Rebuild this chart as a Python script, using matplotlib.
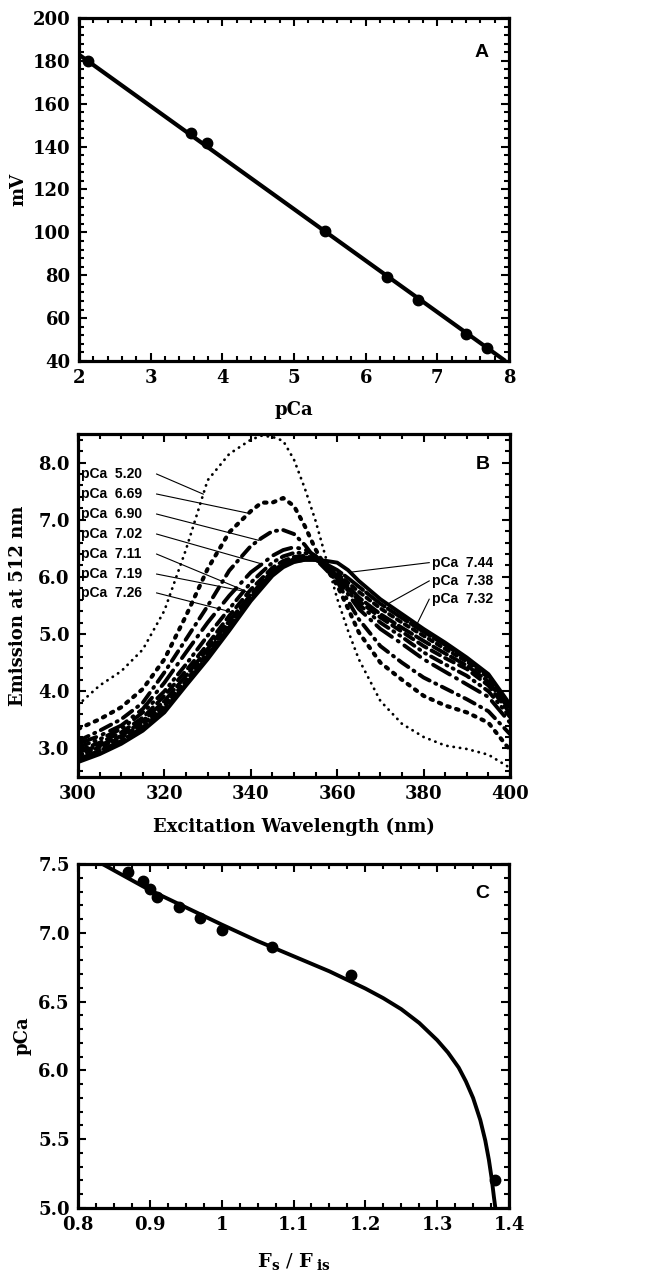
import numpy as np
import matplotlib
matplotlib.use("Agg")
import matplotlib.pyplot as plt
from matplotlib.ticker import MultipleLocator, FixedLocator, FixedFormatter

# ---------------- Panel A data ----------------
a_pca = [2.12, 3.56, 3.79, 5.43, 6.30, 6.73, 7.40, 7.70]
a_mv = [180.0, 146.5, 141.5, 100.5, 79.0, 68.5, 52.5, 46.0]
a_fit_x = [2.0, 7.95]
a_fit_y = [182.9, 40.0]

# ---------------- Panel B data ----------------
wl = [300, 305, 310, 315, 320, 325, 330, 335, 340, 342.5, 345, 347.5, 350,
      352.5, 355, 357.5, 360, 362.5, 365, 370, 375, 380, 385, 390, 395, 400]
em_520 = [3.76, 4.10, 4.35, 4.73, 5.41, 6.48, 7.69, 8.15, 8.40, 8.47, 8.45, 8.38, 8.05,
          7.55, 6.98, 6.30, 5.62, 5.06, 4.56, 3.83, 3.43, 3.20, 3.05, 2.99, 2.89, 2.66]
em_669 = [3.34, 3.51, 3.72, 4.04, 4.56, 5.32, 6.14, 6.78, 7.15, 7.30, 7.30, 7.38, 7.24,
          6.89, 6.48, 6.15, 5.85, 5.45, 5.03, 4.50, 4.20, 3.92, 3.75, 3.63, 3.45, 2.97]
em_690 = [3.13, 3.31, 3.51, 3.80, 4.33, 4.91, 5.49, 6.11, 6.54, 6.68, 6.80, 6.82, 6.75,
          6.56, 6.31, 6.12, 5.92, 5.58, 5.26, 4.79, 4.50, 4.24, 4.05, 3.86, 3.65, 3.25]
em_702 = [3.08, 3.22, 3.40, 3.69, 4.15, 4.68, 5.20, 5.67, 6.08, 6.22, 6.37, 6.47, 6.52,
          6.48, 6.37, 6.17, 5.97, 5.70, 5.44, 5.09, 4.83, 4.56, 4.34, 4.12, 3.90, 3.45]
em_711 = [3.02, 3.16, 3.34, 3.63, 4.00, 4.47, 4.97, 5.44, 5.90, 6.08, 6.25, 6.36, 6.42,
          6.42, 6.35, 6.18, 6.00, 5.76, 5.52, 5.20, 4.95, 4.68, 4.47, 4.27, 4.00, 3.55]
em_719 = [2.96, 3.10, 3.28, 3.54, 3.92, 4.36, 4.82, 5.32, 5.78, 5.97, 6.16, 6.28, 6.35,
          6.37, 6.32, 6.18, 6.02, 5.80, 5.58, 5.29, 5.04, 4.79, 4.58, 4.39, 4.10, 3.62]
em_726 = [2.93, 3.05, 3.22, 3.48, 3.83, 4.27, 4.74, 5.23, 5.69, 5.90, 6.10, 6.23, 6.31,
          6.34, 6.31, 6.19, 6.04, 5.84, 5.64, 5.35, 5.11, 4.88, 4.66, 4.45, 4.17, 3.67]
em_732 = [2.87, 3.02, 3.19, 3.43, 3.75, 4.18, 4.68, 5.17, 5.64, 5.86, 6.08, 6.21, 6.29,
          6.32, 6.30, 6.20, 6.06, 5.90, 5.74, 5.45, 5.20, 4.97, 4.74, 4.52, 4.24, 3.71]
em_738 = [2.81, 2.96, 3.13, 3.37, 3.69, 4.12, 4.62, 5.12, 5.61, 5.83, 6.05, 6.19, 6.27,
          6.30, 6.30, 6.22, 6.12, 5.98, 5.83, 5.53, 5.28, 5.04, 4.81, 4.56, 4.28, 3.74]
em_744 = [2.76, 2.90, 3.08, 3.31, 3.63, 4.10, 4.56, 5.06, 5.58, 5.80, 6.02, 6.17, 6.26,
          6.30, 6.30, 6.28, 6.25, 6.12, 5.93, 5.61, 5.35, 5.09, 4.85, 4.59, 4.30, 3.77]
b_labels = ["5.20", "6.69", "6.90", "7.02", "7.11", "7.19", "7.26", "7.32", "7.38", "7.44"]

# ---------------- Panel C data ----------------
c_ratio = [0.87, 0.89, 0.90, 0.91, 0.94, 0.97, 1.00, 1.07, 1.18, 1.38]
c_pca = [7.44, 7.38, 7.32, 7.26, 7.19, 7.11, 7.02, 6.90, 6.69, 5.20]
c_fit_x = [0.834, 0.90, 0.95, 1.00, 1.05, 1.10, 1.15, 1.20, 1.225, 1.25, 1.275, 1.30,
           1.315, 1.33, 1.34, 1.35, 1.36, 1.367, 1.372, 1.376, 1.379, 1.381]
c_fit_y = [7.50, 7.31, 7.185, 7.06, 6.94, 6.83, 6.72, 6.595, 6.525, 6.445, 6.345, 6.22,
           6.13, 6.02, 5.92, 5.80, 5.64, 5.49, 5.35, 5.21, 5.08, 5.00]

# ---------------- styling ----------------
plt.rcParams['mathtext.fontset'] = 'dejavuserif'
SERIF = 'DejaVu Serif'
SANS = 'Liberation Sans'
TICK_FS = 13
LAB_FS = 13

W, H = 650, 1273
fig = plt.figure(figsize=(W / 100, H / 100), dpi=100)


def frac(l, t, r, b):
    return [l / W, 1 - b / H, (r - l) / W, (b - t) / H]


def style(ax):
    for s in ax.spines.values():
        s.set_linewidth(2.3)
    ax.tick_params(which='both', direction='in', top=True, right=True,
                   width=1.5, labelsize=TICK_FS, pad=6)
    ax.tick_params(which='major', length=6)
    ax.tick_params(which='minor', length=3.5)
    for lab in ax.get_xticklabels() + ax.get_yticklabels():
        lab.set_fontfamily(SERIF)
        lab.set_fontweight('bold')


# ---------------- Panel A ----------------
axA = fig.add_axes(frac(79, 18, 509, 361))
axA.plot(a_fit_x, a_fit_y, color='black', lw=3.0, solid_capstyle='butt')
axA.plot(a_pca, a_mv, 'o', color='black', ms=7.5)
axA.set_xlim(2, 8)
axA.set_ylim(40, 200)
axA.xaxis.set_major_locator(MultipleLocator(1))
axA.xaxis.set_minor_locator(MultipleLocator(0.2))
axA.yaxis.set_major_locator(MultipleLocator(20))
axA.yaxis.set_minor_locator(MultipleLocator(4))
style(axA)
axA.set_xlabel('pCa', fontfamily=SERIF, fontweight='bold', fontsize=LAB_FS, va='center')
axA.xaxis.set_label_coords(0.5, -0.143)
axA.set_ylabel('mV', fontfamily=SERIF, fontweight='bold', fontsize=LAB_FS, va='center')
axA.yaxis.set_label_coords(-0.142, 0.5)
axA.text(0.937, 0.898, 'A', transform=axA.transAxes, fontfamily=SANS,
         fontweight='bold', fontsize=14, ha='center', va='center')

# ---------------- Panel B ----------------
axB = fig.add_axes(frac(78, 434, 510, 777))
series = [em_520, em_669, em_690, em_702, em_711, em_719, em_726, em_732, em_738, em_744]
styles = [
    dict(lw=2.0, ls=(0, (0.1, 2.2)), dash_capstyle='round'),
    dict(lw=3.0, ls=(0, (0.6, 1.6)), dash_capstyle='round'),
    dict(lw=2.8, ls=(0, (3.0, 1.6, 0.3, 1.6)), dash_capstyle='round'),
    dict(lw=2.8, ls=(0, (5.0, 1.8, 0.3, 1.8)), dash_capstyle='round'),
    dict(lw=2.8, ls=(0, (3.0, 1.5, 0.3, 1.5, 0.3, 1.5)), dash_capstyle='round'),
    dict(lw=2.8, ls=(0, (2.5, 1.5)), dash_capstyle='round'),
    dict(lw=2.8, ls=(0, (4.0, 1.2)), dash_capstyle='round'),
    dict(lw=2.8, ls=(0, (1.2, 1.2)), dash_capstyle='round'),
    dict(lw=2.8, ls=(0, (6.0, 1.0)), dash_capstyle='round'),
    dict(lw=2.8, ls='-'),
]
for ys, st in zip(series, styles):
    axB.plot(wl, ys, color='black', **st)
axB.set_xlim(300, 400)
axB.set_ylim(2.5, 8.5)
axB.xaxis.set_major_locator(MultipleLocator(20))
axB.xaxis.set_minor_locator(MultipleLocator(5))
axB.yaxis.set_major_locator(FixedLocator([3, 4, 5, 6, 7, 8]))
axB.yaxis.set_major_formatter(FixedFormatter(['3.0', '4.0', '5.0', '6.0', '7.0', '8.0']))
axB.yaxis.set_minor_locator(MultipleLocator(0.2))
style(axB)
axB.set_xlabel('Excitation Wavelength (nm)', fontfamily=SERIF, fontweight='bold',
               fontsize=LAB_FS, va='center')
axB.xaxis.set_label_coords(0.5, -0.146)
axB.set_ylabel('Emission at 512 nm', fontfamily=SERIF, fontweight='bold',
               fontsize=LAB_FS, va='center')
axB.yaxis.set_label_coords(-0.139, 0.5)
axB.text(0.937, 0.91, 'B', transform=axB.transAxes, fontfamily=SANS,
         fontweight='bold', fontsize=14, ha='center', va='center')

# leader labels (left side)
left_idx = [0, 1, 2, 3, 4, 5, 6]
left_text_y = [7.80, 7.45, 7.10, 6.75, 6.40, 6.05, 5.72]
left_target = [329.0, 339.5, 341.8, 342.6, 338.5, 339.5, 336.5]
for i, ty, tx in zip(left_idx, left_text_y, left_target):
    axB.text(300.8, ty, 'pCa  ' + b_labels[i], fontfamily=SANS, fontweight='bold',
             fontsize=10, ha='left', va='center')
    axB.plot([318.2, tx], [ty, np.interp(tx, wl, series[i])], color='black', lw=0.8)
# leader labels (right side)
right_idx = [9, 8, 7]
right_text_y = [6.25, 5.93, 5.61]
right_target = [363.0, 370.8, 377.8]
for i, ty, tx in zip(right_idx, right_text_y, right_target):
    axB.text(382.0, ty, 'pCa  ' + b_labels[i], fontfamily=SANS, fontweight='bold',
             fontsize=10, ha='left', va='center')
    axB.plot([381.3, tx], [ty, np.interp(tx, wl, series[i])], color='black', lw=0.8)

# ---------------- Panel C ----------------
axC = fig.add_axes(frac(78, 864, 509, 1208))
axC.plot(c_fit_x, c_fit_y, color='black', lw=2.8)
axC.plot(c_ratio, c_pca, 'o', color='black', ms=7.5)
axC.set_xlim(0.8, 1.4)
axC.set_ylim(5.0, 7.5)
axC.xaxis.set_major_locator(FixedLocator([0.8, 0.9, 1.0, 1.1, 1.2, 1.3, 1.4]))
axC.xaxis.set_major_formatter(FixedFormatter(['0.8', '0.9', '1', '1.1', '1.2', '1.3', '1.4']))
axC.xaxis.set_minor_locator(MultipleLocator(0.025))
axC.yaxis.set_major_locator(FixedLocator([5.0, 5.5, 6.0, 6.5, 7.0, 7.5]))
axC.yaxis.set_major_formatter(FixedFormatter(['5.0', '5.5', '6.0', '6.5', '7.0', '7.5']))
axC.yaxis.set_minor_locator(MultipleLocator(0.1))
style(axC)
axC.set_xlabel(r'$\mathbf{F}_{\mathbf{s}}\ /\ \mathbf{F}_{\ \mathbf{is}}$', fontsize=LAB_FS + 1,
               va='center')
axC.xaxis.set_label_coords(0.5, -0.155)
axC.set_ylabel('pCa', fontfamily=SERIF, fontweight='bold', fontsize=LAB_FS, va='center')
axC.yaxis.set_label_coords(-0.128, 0.5)
axC.text(0.937, 0.913, 'C', transform=axC.transAxes, fontfamily=SANS,
         fontweight='bold', fontsize=14, ha='center', va='center')

fig.savefig('out.png', dpi=100)
